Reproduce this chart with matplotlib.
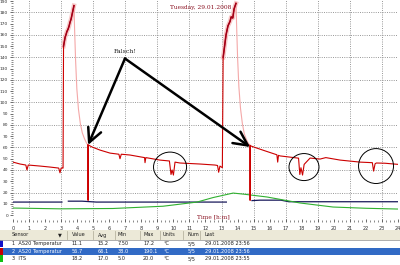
import numpy as np
import matplotlib
matplotlib.use("Agg")
import matplotlib.pyplot as plt
from matplotlib.patches import Ellipse, Rectangle

# ---------------- data ----------------
nan = np.nan
red_t = [0, 0.44, 0.80, 0.87, 0.95, 1.68, 2.31, 2.85, 2.93, 3.00, 3.08,
         3.12, 3.15, 3.25, 3.30, 3.36, 3.43, 3.50, 3.55, 3.62, 3.68, 3.74, 3.80,
         3.82, 4.66, 4.68, 4.70,
         4.93, 5.42, 6.05, 6.60, 6.67, 6.75, 7.29, 8.20, 8.23, 8.28, 9.16,
         9.75, 9.85, 9.92, 10.00, 10.10, 10.41, 11.66, 12.59, 12.75, 12.82, 12.90,
         13.05, 13.10, 13.28, 13.40, 13.53, 13.60, 13.70, 13.78, 13.85, 13.90,
         13.92, 14.76, 14.78, 14.80,
         15.09, 15.71, 16.45, 16.50, 16.55, 16.65, 17.80, 17.88, 17.95, 18.05,
         18.15, 18.52, 19.14, 19.50, 20.39, 21.63, 22.40, 22.48, 22.57, 22.65,
         23.19, 24.0]
red_v = [47.0, 45.3, 44.4, 40.0, 44.4, 43.5, 42.6, 41.7, 37.5, 41.7, 41.7,
         41.7, 150.0, 158.0, 160.0, 163.0, 165.0, 168.0, 171.0, 174.0, 178.0, 182.0, 186.0,
         nan, 62.5, 13.0, 62.2,
         60.4, 57.7, 55.0, 54.0, 50.0, 54.0, 53.3, 51.0, 46.5, 51.0, 48.8,
         48.0, 36.0, 40.0, 35.5, 47.0, 46.2, 45.3, 44.4, 44.0, 38.0, 43.5,
         42.0, 140.0, 160.0, 168.0, 172.0, 176.0, 175.0, 183.0, 186.0, 188.0,
         nan, 62.0, 13.0, 61.5,
         60.0, 57.0, 53.5, 47.0, 53.0, 52.5, 50.5, 36.0, 42.0, 35.5,
         45.0, 50.6, 49.7, 51.0, 48.8, 47.0, 46.5, 39.0, 45.5, 46.2,
         46.0, 45.0]

# cooling-down part after each peak (drawn light)
decay1_t = [3.80, 3.84, 3.90, 3.98, 4.08, 4.20, 4.32, 4.45, 4.58, 4.66]
decay1_v = [186.0, 165.0, 138.0, 112.0, 94.0, 81.0, 73.0, 68.0, 64.0, 62.5]
decay2_t = [13.90, 13.94, 14.00, 14.08, 14.18, 14.30, 14.42, 14.55, 14.68, 14.76]
decay2_v = [188.0, 168.0, 140.0, 114.0, 95.0, 81.0, 72.0, 67.0, 63.5, 62.0]

blue_t = [0, 3.05, 3.20, 3.45, 4.30, 5.20, 13.30, 13.40, 14.90, 15.40, 16.70, 17.20, 24.0]
blue_v = [11.5, 11.5, nan, 12.3, 12.3, 11.5, 11.5, nan, 12.8, 13.2, 13.2, 11.8, 11.8]

green_t = [0, 2.93, 6.23, 9.35, 11.47, 12.47, 13.72, 14.40, 15.84, 17.89, 19.95, 22.0, 24.0]
green_v = [6.2, 5.5, 5.8, 7.8, 11.5, 15.5, 19.5, 18.5, 16.0, 10.7, 7.1, 6.0, 5.3]

x_ticks = list(range(0, 25))
y_ticks = list(range(0, 200, 10))

title_text = "Tuesday, 29.01.2008"
x_label = "Time [h:m]"
note_text = "Falsch!"
note_xy = (6.98, 139.0)
arrow_targets = [(4.68, 62.2), (14.78, 60.4)]
circles = [(9.79, 42.6, 2.06, 26.6), (18.14, 42.6, 1.87, 24.0), (22.63, 43.5, 2.18, 31.0)]

headers = ["Sensor", "\u25bc", "Value", "Avg", "Min", "Max", "Units", "Num", "Last"]
rows = [
    ["1  AS20 Temperatur", "", "11.1", "15.2", "7.50", "17.2", "\u00b0C", "5/5", "29.01.2008 23:56"],
    ["2  AS20 Temperatur", "", "56.7", "66.1", "38.0", "190.1", "\u00b0C", "5/5", "29.01.2008 23:56"],
    ["3  ITS", "", "18.2", "17.0", "5.0", "20.0", "\u00b0C", "5/5", "29.01.2008 23:55"],
]
row_colors = ["#1010c8", "#c80000", "#10c010"]

# ---------------- figure ----------------
W, H = 400, 265
fig = plt.figure(figsize=(W / 100, H / 100), dpi=100)
fig.patch.set_facecolor("white")
ax = fig.add_axes([13 / W, 1 - 222 / H, 385 / W, 222 / H])
ax.set_xlim(0, 24)
ax.set_ylim(-6.2, 191)
for s in ax.spines.values():
    s.set_visible(False)

# grid
for yy in range(20, 200, 20):
    ax.axhline(yy, color="#8a8a8a", lw=0.6, ls=(0, (1.2, 1.5)), zorder=0)
for xx in range(1, 25, 2):
    ax.axvline(xx, color="#8a8a8a", lw=0.6, ls=(0, (1.2, 1.5)), zorder=0)

rt = np.array(red_t)
rv = np.array(red_v)
halo = np.where(rv > 62.5, rv, nan)
ax.plot(rt, halo, color="#f8c8c8", lw=3.2, zorder=1)
ax.plot(decay1_t, decay1_v, color="#f4a8a8", lw=0.8, zorder=2)
ax.plot(decay2_t, decay2_v, color="#f4a8a8", lw=0.8, zorder=2)
ax.plot(rt, rv, color="#cc0000", lw=0.8, zorder=3)
ax.plot(rt, halo, color="#a00018", lw=1.1, zorder=3)
ax.plot(blue_t, blue_v, color="#18185a", lw=0.9, zorder=2)
ax.plot(green_t, green_v, color="#30b030", lw=0.8, zorder=2)

# ticks
ax.set_xticks(x_ticks)
ax.set_xticklabels([str(v) for v in x_ticks], fontsize=3.6, color="#303030")
ax.set_xticks(np.arange(0, 24.01, 0.25), minor=True)
ax.set_yticks(y_ticks)
ax.set_yticklabels([str(v) for v in y_ticks], fontsize=3.2, color="#303030")
ax.set_yticks(np.arange(0, 191, 2), minor=True)
ax.tick_params(axis="y", which="major", length=2.5, width=0.5, pad=1, color="#333333")
ax.tick_params(axis="x", which="major", length=2.5, width=0.5, pad=3, color="#333333")
ax.tick_params(axis="both", which="minor", length=1.2, width=0.4, color="#333333")
ax.tick_params(axis="x", which="both", direction="in")

ax.text(11.7, 184.5, title_text, fontsize=4.2, color="#8a1020", ha="center", va="center",
        family="DejaVu Serif")
ax.text(12.5, -1.5, x_label, fontsize=4.2, color="#8a1020", ha="center", va="center",
        family="DejaVu Serif")

# annotation arrows
ax.text(note_xy[0], note_xy[1] + 6.5, note_text, fontsize=4.5, ha="center", va="center",
        family="DejaVu Serif", color="#202020")
for tx, ty in arrow_targets:
    ax.annotate("", xy=(tx, ty), xytext=note_xy,
                arrowprops=dict(arrowstyle="->,head_length=1.0,head_width=0.5", lw=1.8,
                                color="black", shrinkA=0, shrinkB=0), zorder=5)
for cx, cy, cw, ch in circles:
    ax.add_patch(Ellipse((cx, cy), cw, ch, fill=False, ec="black", lw=0.7, zorder=5))

# ---------------- table ----------------
def fy(py):
    return 1 - py / H

fig.patches.append(Rectangle((0, fy(240)), 1, 10 / H, transform=fig.transFigure,
                             facecolor="#ece9d8", edgecolor="none"))
fig.patches.append(Rectangle((0, fy(247.5)), 1, 7.5 / H, transform=fig.transFigure,
                             facecolor="white", edgecolor="none"))
fig.patches.append(Rectangle((0, fy(255)), 1, 7.5 / H, transform=fig.transFigure,
                             facecolor="#316ac5", edgecolor="none"))
fig.patches.append(Rectangle((0, 0), 1, 10 / H, transform=fig.transFigure,
                             facecolor="white", edgecolor="none"))
col_x = [12, 58, 72, 98, 118, 143, 163, 188, 205]
col_sep = [67, 93, 115, 140, 160, 183, 200]
for sx in col_sep:
    fig.lines.append(plt.Line2D([sx / W, sx / W], [fy(239), fy(231)], transform=fig.transFigure,
                                color="#b8b4a0", lw=0.6))
for hx, htxt in zip(col_x, headers):
    fig.text(hx / W, fy(235), htxt, fontsize=3.6, color="#202020", va="center", ha="left")
row_y = [243.8, 251.3, 258.8]
for i, (r, py) in enumerate(zip(rows, row_y)):
    col = "white" if i == 1 else "#202020"
    for hx, txt in zip(col_x, r):
        if txt:
            fig.text(hx / W, fy(py), txt, fontsize=3.6, color=col, va="center", ha="left")
    fig.patches.append(Rectangle((0, fy(py + 3.5)), 3 / W, 7 / H, transform=fig.transFigure,
                                 facecolor=row_colors[i], edgecolor="none"))
fig.lines.append(plt.Line2D([0, 1], [fy(240), fy(240)], transform=fig.transFigure,
                            color="#a0a0a0", lw=0.6))

fig.savefig("out.png", dpi=100)
